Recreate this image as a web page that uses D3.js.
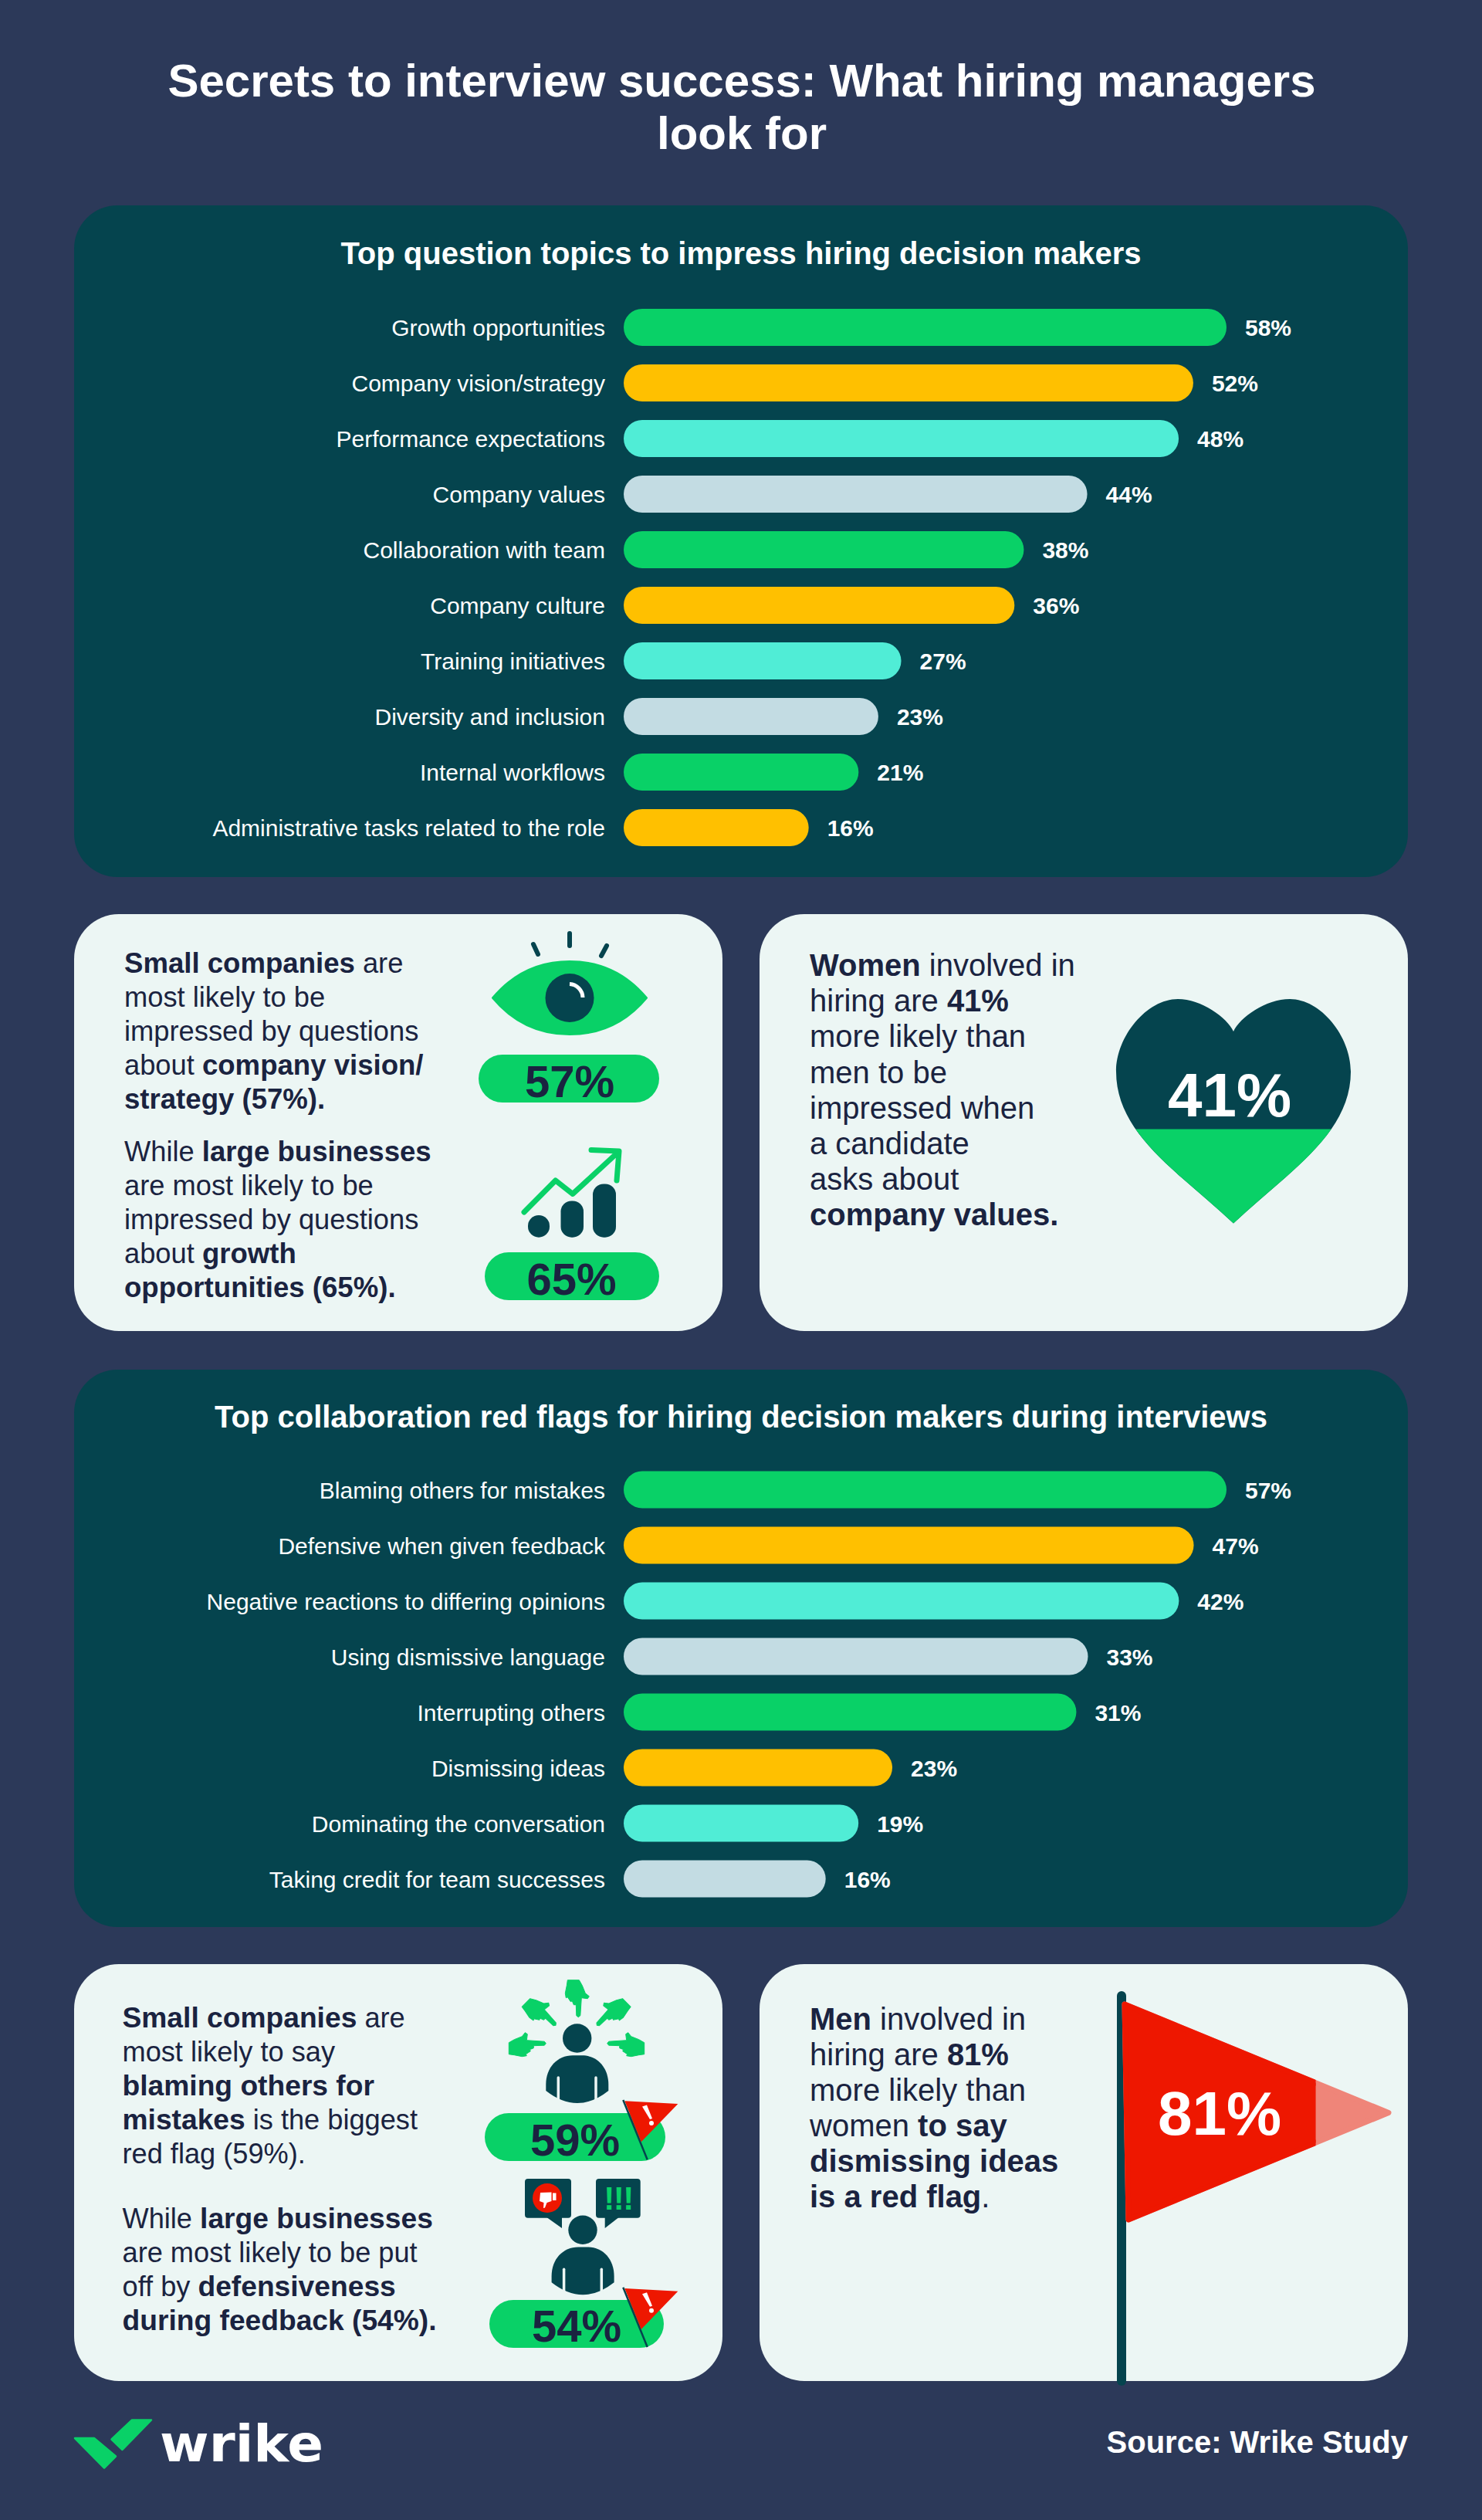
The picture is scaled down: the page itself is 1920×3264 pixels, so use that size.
<!DOCTYPE html>
<html>
<head>
<meta charset="utf-8">
<title>Secrets to interview success</title>
<script src="https://cdn.jsdelivr.net/npm/d3@7"></script>
<style>
  html, body { margin: 0; padding: 0; background: #2c3959; }
  svg { display: block; }
  text { font-family: "Liberation Sans", Arial, sans-serif; }
</style>
</head>
<body>
<div id="chart"></div>
<script>
/* Hiring managers infographic: two bar panels plus four callout cards. */

var titleLines = ["Secrets to interview success: What hiring managers", "look for"];

var topicTitle = "Top question topics to impress hiring decision makers";
var topics = ["Growth opportunities", "Company vision/strategy", "Performance expectations", "Company values",
  "Collaboration with team", "Company culture", "Training initiatives", "Diversity and inclusion",
  "Internal workflows", "Administrative tasks related to the role"];
var topicValues = [58, 52, 48, 44, 38, 36, 27, 23, 21, 16];
/* the drawn bars are not proportional to their labels, so lengths are read off separately */
var topicBarLengths = [58, 54.8, 53.4, 44.6, 38.5, 37.6, 26.7, 24.5, 22.6, 17.8];

var flagTitle = "Top collaboration red flags for hiring decision makers during interviews";
var redFlags = ["Blaming others for mistakes", "Defensive when given feedback", "Negative reactions to differing opinions",
  "Using dismissive language", "Interrupting others", "Dismissing ideas", "Dominating the conversation",
  "Taking credit for team successes"];
var redFlagValues = [57, 47, 42, 33, 31, 23, 19, 16];
var redFlagBarLengths = [57, 53.9, 52.5, 43.9, 42.8, 25.4, 22.2, 19.1];

var heartLabel = "41%";
var heartFillRead = 42;
var bigFlagLabel = "81%";
var bigFlagFillRead = 72;

/* [text, bold] runs per line */
var card1Lines = [
  [["Small companies", 1], [" are", 0]],
  [["most likely to be", 0]],
  [["impressed by questions", 0]],
  [["about ", 0], ["company vision/", 1]],
  [["strategy", 1], [" (57%).", 1]]
];
var card1bLines = [
  [["While ", 0], ["large businesses", 1]],
  [["are most likely to be", 0]],
  [["impressed by questions", 0]],
  [["about ", 0], ["growth", 1]],
  [["opportunities (65%).", 1]]
];
var card2Lines = [
  [["Women", 1], [" involved in", 0]],
  [["hiring are ", 0], ["41%", 1]],
  [["more likely than", 0]],
  [["men to be", 0]],
  [["impressed when", 0]],
  [["a candidate", 0]],
  [["asks about", 0]],
  [["company values.", 1]]
];
var card3Lines = [
  [["Small companies", 1], [" are", 0]],
  [["most likely to say", 0]],
  [["blaming others for", 1]],
  [["mistakes", 1], [" is the biggest", 0]],
  [["red flag (59%).", 0]]
];
var card3bLines = [
  [["While ", 0], ["large businesses", 1]],
  [["are most likely to be put", 0]],
  [["off by ", 0], ["defensiveness", 1]],
  [["during feedback (54%).", 1]]
];
var card4Lines = [
  [["Men", 1], [" involved in", 0]],
  [["hiring are ", 0], ["81%", 1]],
  [["more likely than", 0]],
  [["women ", 0], ["to say", 1]],
  [["dismissing ideas", 1]],
  [["is a red flag", 1], [".", 0]]
];

var barColors = ["#09d167", "#ffc000", "#50edd6", "#c3dce3"];
var NAVY = "#1a2340", TEAL = "#05444e", CARD = "#ecf6f4", GREEN = "#09d167", RED = "#ee1700";

var svg = d3.select("#chart").append("svg")
  .attr("width", 1920).attr("height", 3264).attr("viewBox", "0 0 1920 3264");

svg.append("rect").attr("width", 1920).attr("height", 3264).attr("fill", "#2c3959");

svg.selectAll(".title").data(titleLines).enter().append("text")
  .attr("class", "title")
  .attr("x", 961).attr("y", function (d, i) { return 125 + i * 68; })
  .attr("text-anchor", "middle").attr("font-size", 60).attr("font-weight", 700).attr("fill", "#fff")
  .text(function (d) { return d; });

function panel(top, bottom, barTop, titleY, title, cats, values, lengths, maxVal) {
  svg.append("rect").attr("x", 96).attr("y", top).attr("width", 1728).attr("height", bottom - top)
    .attr("rx", 56).attr("fill", TEAL);
  svg.append("text").attr("x", 960).attr("y", titleY)
    .attr("text-anchor", "middle").attr("font-size", 40).attr("font-weight", 700).attr("fill", "#fff")
    .text(title);

  var x = d3.scaleLinear().domain([0, maxVal]).range([808, 1589]);
  var y = d3.scaleBand().domain(cats).range([barTop, barTop + 72 * cats.length - 24]).paddingInner(1 / 3);

  var axis = svg.append("g").attr("transform", "translate(808,1.5)")
    .call(d3.axisLeft(y).tickSize(0).tickPadding(24));
  axis.select(".domain").remove();
  axis.selectAll("text").attr("font-size", 30).attr("fill", "#fff")
    .style("font-family", '"Liberation Sans", Arial, sans-serif');

  svg.append("g").selectAll("rect").data(cats).enter().append("rect")
    .attr("x", x(0)).attr("y", function (d) { return y(d); })
    .attr("width", function (d, i) { return x(lengths[i]) - x(0); })
    .attr("height", y.bandwidth()).attr("rx", 24)
    .attr("fill", function (d, i) { return barColors[i % 4]; });

  svg.append("g").selectAll("text").data(cats).enter().append("text")
    .attr("x", function (d, i) { return x(lengths[i]) + 24; })
    .attr("y", function (d) { return y(d) + y.bandwidth() / 2; })
    .attr("dy", "0.38em").attr("font-size", 30).attr("font-weight", 700).attr("fill", "#fff")
    .text(function (d, i) { return values[i] + "%"; });
}

panel(266, 1136, 400, 342, topicTitle, topics, topicValues, topicBarLengths, 58);
panel(1774, 2496, 1905.5, 1849, flagTitle, redFlags, redFlagValues, redFlagBarLengths, 57);

function card(x, y) {
  svg.append("rect").attr("x", x).attr("y", y).attr("width", 840).attr("height", 540)
    .attr("rx", 58).attr("fill", CARD);
}
card(96, 1184);
card(984, 1184);
card(96, 2544);
card(984, 2544);

function para(lines, x, y, size, boldSize, pitch) {
  lines.forEach(function (runs, i) {
    var t = svg.append("text").attr("x", x).attr("y", y + i * pitch)
      .attr("fill", NAVY).attr("xml:space", "preserve");
    runs.forEach(function (r) {
      t.append("tspan").attr("font-weight", r[1] ? 700 : 400)
        .attr("font-size", r[1] ? boldSize : size).text(r[0]);
    });
  });
}
para(card1Lines, 161, 1260, 36.3, 36.6, 44);
para(card1bLines, 161, 1503.5, 36.3, 36.6, 44);
para(card2Lines, 1049, 1264, 40, 40, 46.2);
para(card3Lines, 158.5, 2626, 36.2, 37.2, 44);
para(card3bLines, 158.5, 2886, 36.2, 37.2, 44);
para(card4Lines, 1049, 2629, 40, 40, 46);

function pill(x0, x1, y0, label, cx, baseline) {
  svg.append("rect").attr("x", x0).attr("y", y0).attr("width", x1 - x0).attr("height", 62)
    .attr("rx", 31).attr("fill", GREEN);
  svg.append("text").attr("x", cx).attr("y", baseline).attr("text-anchor", "middle")
    .attr("font-size", 58).attr("font-weight", 700).attr("fill", NAVY).text(label);
}
pill(620, 854, 1366, "57%", 738, 1421);
pill(628, 854, 1622, "65%", 740.5, 1676.5);
pill(628, 862, 2737, "59%", 745, 2792);
pill(634, 860, 2979, "54%", 747, 3033);

/* eye */
svg.append("path").attr("fill", GREEN).attr("stroke", GREEN).attr("stroke-width", 2).attr("stroke-linejoin", "round")
  .attr("d", "M638,1292.5C665,1260 700,1245 738,1245C776,1245 811,1260 838,1292.5C811,1325 776,1340 738,1340C700,1340 665,1325 638,1292.5Z");
svg.append("circle").attr("cx", 738).attr("cy", 1292.5).attr("r", 31.5).attr("fill", TEAL);
svg.append("path").attr("fill", "none").attr("stroke", "#fff").attr("stroke-width", 5)
  .attr("d", "M738,1274.5A18,18 0 0 1 755,1292");
[[738, 1209, 738, 1225], [691, 1223, 697, 1236], [786, 1225, 779, 1238]].forEach(function (r) {
  svg.append("line").attr("x1", r[0]).attr("y1", r[1]).attr("x2", r[2]).attr("y2", r[3])
    .attr("stroke", TEAL).attr("stroke-width", 6).attr("stroke-linecap", "round");
});

/* growth chart icon */
[[684, 1574, 28], [726.5, 1555.5, 29.5], [768, 1533.5, 30]].forEach(function (b) {
  svg.append("rect").attr("x", b[0]).attr("y", b[1]).attr("width", b[2]).attr("height", 1602.7 - b[1])
    .attr("rx", 14).attr("fill", TEAL);
});
svg.append("path").attr("fill", "none").attr("stroke", GREEN).attr("stroke-width", 7)
  .attr("stroke-linecap", "round").attr("stroke-linejoin", "round")
  .attr("d", "M679,1570L719.7,1529L742,1546.4L800,1493M766,1489.5L802,1491L799,1529");

/* heart, filled from the bottom */
var heartPath = "M1598,1336C1590,1318 1556,1294 1526,1294C1486,1294 1446,1342 1446,1388C1446,1470 1530,1520 1598,1584.5"
  + "C1666,1520 1750,1470 1750,1388C1750,1342 1711,1294 1671,1294C1640,1294 1606,1318 1598,1336Z";
var heartY = d3.scaleLinear().domain([0, 100]).range([1584.5, 1294]);
svg.append("clipPath").attr("id", "heart-fill").append("rect")
  .attr("x", 1440).attr("width", 320).attr("y", heartY(heartFillRead)).attr("height", 1590 - heartY(heartFillRead));
svg.append("path").attr("d", heartPath).attr("fill", TEAL);
svg.append("path").attr("d", heartPath).attr("fill", GREEN).attr("clip-path", "url(#heart-fill)");
svg.append("text").attr("x", 1593).attr("y", 1446).attr("text-anchor", "middle")
  .attr("font-size", 80).attr("font-weight", 700).attr("fill", "#fff").text(heartLabel);

/* pointing hand, fingertip at the origin, pointing along +x */
var handPath = "M-48,-1L-41,-5L-31,-9L-27,-14L-24,-12L-25,-4L-2,-2.5L0,0L-2,2.5L-16,3L-16,6L-21,8L-20,10L-23,12L-26,14L-25,16L-31,17L-41,15L-48,14Z";
function hand(transform) {
  svg.append("path").attr("d", handPath).attr("fill", GREEN).attr("stroke", GREEN)
    .attr("stroke-width", 1).attr("stroke-linejoin", "round").attr("transform", transform);
}
hand("translate(707.3,2646.7)");
hand("translate(786.7,2646.7) scale(-1,1)");
hand("translate(749.3,2612.7) rotate(90)");
hand("translate(720,2623.3) rotate(45)");
hand("translate(773.3,2623.3) rotate(135) scale(1,-1)");

function person(dx, dy) {
  var g = svg.append("g").attr("transform", "translate(" + dx + "," + dy + ")");
  g.append("circle").attr("cx", 747.7).attr("cy", 2640).attr("r", 18.7).attr("fill", TEAL);
  g.append("path").attr("fill", TEAL)
    .attr("d", "M707.3,2708V2700C707.3,2678 722,2662.3 742,2662.3H754C774,2662.3 788.3,2678 788.3,2700V2708Q748,2740 707.3,2708Z");
  [723.3, 772].forEach(function (x) {
    g.append("line").attr("x1", x).attr("x2", x).attr("y1", 2691).attr("y2", 2726)
      .attr("stroke", CARD).attr("stroke-width", 3.5).attr("stroke-linecap", "round");
  });
}
person(0, 0);
person(7.3, 248.3);

function smallFlag(dy) {
  var g = svg.append("g").attr("transform", "translate(0," + dy + ")");
  g.append("line").attr("x1", 807.3).attr("y1", 2720).attr("x2", 838.7).attr("y2", 2797.3)
    .attr("stroke", TEAL).attr("stroke-width", 2.5);
  g.append("path").attr("fill", RED).attr("d", "M809.3,2721.3L878.3,2725L830.7,2774.3Z");
  g.append("path").attr("fill", "#fff").attr("d", "M832,2728.5L838,2726.5L845,2744L842,2745Z");
  g.append("circle").attr("cx", 844).attr("cy", 2750).attr("r", 3).attr("fill", "#fff");
}
smallFlag(0);
smallFlag(242.7);

/* speech bubbles */
svg.append("rect").attr("x", 680).attr("y", 2822).attr("width", 60).attr("height", 50.7).attr("rx", 4).attr("fill", TEAL);
svg.append("path").attr("fill", TEAL).attr("d", "M708.3,2872L728,2886V2872Z");
svg.append("circle").attr("cx", 709).attr("cy", 2847).attr("r", 19).attr("fill", RED);
svg.append("path").attr("fill", "#fff")
  .attr("d", "M700,2840L714.5,2839.5V2851L708.5,2853L706,2859.5L704,2860L704.5,2853L699,2851ZM716,2840.5H720.5V2850H716Z");
svg.append("rect").attr("x", 772).attr("y", 2822).attr("width", 57.7).attr("height", 50.7).attr("rx", 4).attr("fill", TEAL);
svg.append("path").attr("fill", TEAL).attr("d", "M783.7,2872V2886L801.7,2872Z");
svg.append("text").attr("x", 801).attr("y", 2862).attr("text-anchor", "middle")
  .attr("font-size", 42).attr("font-weight", 700).attr("letter-spacing", -1.5).attr("fill", GREEN).text("!!!");

/* big flag, red part reads the value, pink part the rest */
var flagX = d3.scaleLinear().domain([0, 100]).range([1454, 1802]);
var flagPath = "M1457,2596L1799,2736.5L1462,2875Z";
svg.append("line").attr("x1", 1453).attr("x2", 1453).attr("y1", 2585).attr("y2", 3084)
  .attr("stroke", TEAL).attr("stroke-width", 12).attr("stroke-linecap", "round");
svg.append("rect").attr("x", 1447).attr("y", 3060).attr("width", 12).attr("height", 24.5).attr("fill", TEAL);
svg.append("clipPath").attr("id", "flag-fill").append("rect")
  .attr("x", 1440).attr("y", 2580).attr("width", flagX(bigFlagFillRead) - 1440).attr("height", 310);
svg.append("path").attr("d", flagPath).attr("fill", "#ef8579").attr("stroke", "#ef8579")
  .attr("stroke-width", 7).attr("stroke-linejoin", "round");
svg.append("path").attr("d", flagPath).attr("fill", RED).attr("stroke", RED)
  .attr("stroke-width", 7).attr("stroke-linejoin", "round").attr("clip-path", "url(#flag-fill)");
svg.append("text").attr("x", 1580).attr("y", 2765).attr("text-anchor", "middle")
  .attr("font-size", 80).attr("font-weight", 700).attr("fill", "#fff").text(bigFlagLabel);

/* footer */
svg.append("path").attr("fill", GREEN).attr("stroke", GREEN).attr("stroke-width", 2.5).attr("stroke-linejoin", "round")
  .attr("d", "M97,3158H122L150,3181.5L135,3196.5ZM171,3134.5H196L158.5,3173L144.5,3159.5Z");
svg.append("text").attr("x", 207).attr("y", 3188).attr("font-size", 66).attr("font-weight", 700)
  .attr("textLength", 212).attr("lengthAdjust", "spacingAndGlyphs").attr("fill", "#fff")
  .style("font-family", '"DejaVu Sans", sans-serif').text("wrike");
svg.append("text").attr("x", 1824).attr("y", 3177).attr("text-anchor", "end")
  .attr("font-size", 40).attr("font-weight", 700).attr("fill", "#fff").text("Source: Wrike Study");
</script>
</body>
</html>
